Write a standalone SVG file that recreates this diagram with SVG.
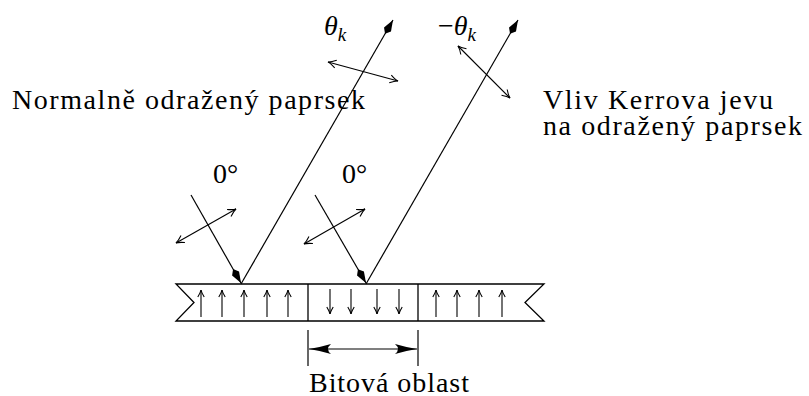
<svg xmlns="http://www.w3.org/2000/svg" width="809" height="396" viewBox="0 0 809 396">
<style>
.ln{stroke:#000;stroke-width:1.2;fill:none}
.sl{stroke:#000;stroke-width:1.3;fill:none}
.ray{stroke:#000;stroke-width:1.2;fill:none;marker-end:url(#kite)}
.pol{stroke:#000;stroke-width:1.1;fill:none;marker-start:url(#open);marker-end:url(#open)}
.sm{stroke:#000;stroke-width:1.1;fill:none;marker-end:url(#opensm)}
.t{font-family:"Liberation Serif","Times New Roman",serif;font-size:28px;fill:#000}
.m{font-family:"Liberation Serif","Times New Roman",serif;font-style:italic;fill:#000}
</style>
<defs>
<marker id="kite" markerUnits="userSpaceOnUse" viewBox="-18 -5 19 10" markerWidth="19" markerHeight="10" refX="0" refY="0" orient="auto" overflow="visible">
<path d="M0,0 L-11,-4 L-16,0 L-11,4 Z" fill="#000"/>
</marker>
<marker id="open" markerUnits="userSpaceOnUse" viewBox="-9 -5 10 10" markerWidth="10" markerHeight="10" refX="0" refY="0" orient="auto-start-reverse" overflow="visible">
<path d="M-8,-4 Q-3,-0.6 0,0 Q-3,0.6 -8,4" fill="none" stroke="#000" stroke-width="1.1"/>
</marker>
<marker id="opensm" markerUnits="userSpaceOnUse" viewBox="-8 -4 9 8" markerWidth="9" markerHeight="8" refX="0" refY="0" orient="auto" overflow="visible">
<path d="M-7,-3.2 Q-2.5,-0.5 0,0 Q-2.5,0.5 -7,3.2" fill="none" stroke="#000" stroke-width="1.1"/>
</marker>
<marker id="dim" markerUnits="userSpaceOnUse" viewBox="-23 -6 24 12" markerWidth="24" markerHeight="12" refX="0" refY="0" orient="auto-start-reverse" overflow="visible">
<path d="M0,0 Q-10,-1.5 -22,-5 Q-16,0 -22,5 Q-10,1.5 0,0 Z" fill="#000"/>
</marker>
</defs>
<rect width="809" height="396" fill="#fff"/>

<g id="slab">
<path class="sl" d="M176,284 L544,284 L525,302.5 L544,321 L176,321 L194,302.5 Z"/>
<line class="sl" x1="308" y1="284" x2="308" y2="321"/>
<line class="sl" x1="418" y1="284" x2="418" y2="321"/>
<g id="domains">
<line class="sm" x1="201" y1="317" x2="201" y2="290"/>
<line class="sm" x1="222" y1="317" x2="222" y2="290"/>
<line class="sm" x1="244" y1="317" x2="244" y2="290"/>
<line class="sm" x1="267" y1="317" x2="267" y2="290"/>
<line class="sm" x1="288" y1="317" x2="288" y2="290"/>
<line class="sm" x1="330" y1="289" x2="330" y2="314"/>
<line class="sm" x1="351" y1="289" x2="351" y2="314"/>
<line class="sm" x1="377" y1="289" x2="377" y2="314"/>
<line class="sm" x1="399" y1="289" x2="399" y2="314"/>
<line class="sm" x1="436" y1="317" x2="436" y2="290"/>
<line class="sm" x1="457" y1="317" x2="457" y2="290"/>
<line class="sm" x1="479" y1="317" x2="479" y2="290"/>
<line class="sm" x1="502" y1="317" x2="502" y2="290"/>
</g>
</g>

<g id="connectors">
<line class="ray" x1="191" y1="195" x2="241" y2="283"/>
<line class="ray" x1="241" y1="284" x2="393" y2="20"/>
<line class="ray" x1="315" y1="195" x2="366" y2="283"/>
<line class="ray" x1="366" y1="284" x2="518" y2="20"/>
<line class="pol" x1="176" y1="243" x2="236" y2="209"/>
<line class="pol" x1="304" y1="244" x2="365" y2="209"/>
<line class="pol" x1="328" y1="62" x2="398" y2="81"/>
<line class="pol" x1="458" y1="46" x2="510" y2="98"/>
</g>

<g id="dimension">
<line class="ln" x1="308" y1="330" x2="308" y2="366"/>
<line class="ln" x1="418" y1="330" x2="418" y2="366"/>
<line class="ln" x1="309" y1="349" x2="417" y2="349" marker-start="url(#dim)" marker-end="url(#dim)"/>
</g>

<g id="labels">
<text class="t" x="12" y="109" textLength="353" lengthAdjust="spacing">Normalně odražený paprsek</text>
<text class="t" x="543" y="109" textLength="230" lengthAdjust="spacing">Vliv Kerrova jevu</text>
<text class="t" x="543" y="135" textLength="259" lengthAdjust="spacing">na odražený paprsek</text>
<text class="t" x="213" y="183">0°</text>
<text class="t" x="342" y="183">0°</text>
<text class="t" x="309" y="392" textLength="160" lengthAdjust="spacing">Bitová oblast</text>
<text class="m" x="324" y="35" font-size="28">θ<tspan font-size="19" dy="6">k</tspan></text>
<text class="m" x="438" y="35" font-size="28"><tspan font-style="normal">−</tspan>θ<tspan font-size="19" dy="6">k</tspan></text>
</g>
</svg>
